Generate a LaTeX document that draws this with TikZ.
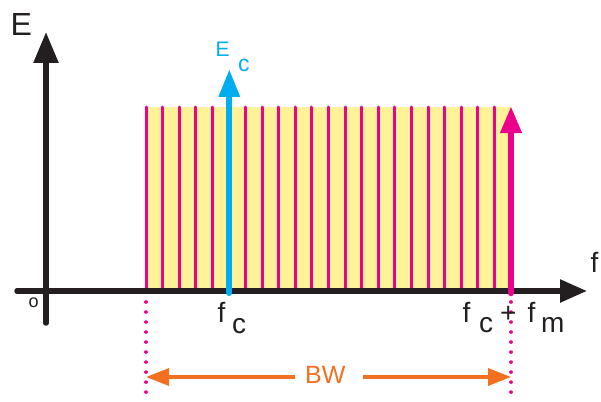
\documentclass[tikz,border=0pt]{standalone}
\usepackage{fontspec}
\setmainfont{Liberation Sans}
\usetikzlibrary{arrows.meta}
\definecolor{axisblack}{RGB}{35,31,32}
\definecolor{cblue}{RGB}{0,174,239}
\definecolor{cpink}{RGB}{236,0,140}
\definecolor{corange}{RGB}{243,112,33}
\definecolor{cyellow}{RGB}{255,242,153}
\tikzset{
  axisline/.style={draw=axisblack,line width=5.5pt,line cap=round},
  sideline/.style={draw=cpink,line width=3pt,line cap=round},
  dotline/.style={draw=cpink,line width=3.6pt,line cap=round,dash pattern=on 0.01pt off 10pt},
  bwarrow/.style={draw=corange,line width=3.2pt,-{Triangle[length=23pt,width=17pt]}},
  lbl/.style={inner sep=0pt,anchor=base west},
}
\begin{document}
\begin{tikzpicture}[x=1pt,y=-1pt]
\useasboundingbox (0,0) rectangle (601,401);
% coordinates
\coordinate (vbot) at (46,323);
\coordinate (vtop) at (46,32);
\coordinate (hleft) at (17,291);
\coordinate (hright) at (587,291);
\coordinate (bandTL) at (146,107);
\coordinate (bandBR) at (511,291);
\coordinate (ecbot) at (229.3,293);
\coordinate (ectop) at (229.3,69);
\coordinate (fmbot) at (511,293);
\coordinate (fmtop) at (511,106);
\coordinate (dl1) at (146,302);
\coordinate (dl2) at (146,401);
\coordinate (dr1) at (511,302);
\coordinate (dr2) at (511,401);
\coordinate (bwL) at (146,377);
\coordinate (bwR) at (511,377);
\coordinate (bwl0) at (295,377);
\coordinate (bwr0) at (363,377);
% yellow band
\fill[cyellow] (bandTL) rectangle (bandBR);
% thin sidebands
\foreach \i in {0,...,21}{
  \ifnum\i=5\else
    \draw[sideline] ({146+\i*16.5909},291) -- ({146+\i*16.5909},107);
  \fi
}
% axes
\draw[axisline,-{Triangle[length=31pt,width=24pt]}] (vbot) -- (vtop);
\draw[axisline,-{Triangle[length=27pt,width=22pt]}] (hleft) -- (hright);
% carrier and top sideband
\draw[draw=cblue,fill=cblue,line width=6pt,line cap=round,-{Triangle[length=28pt,width=20pt]}] (ecbot) -- (ectop);
\draw[draw=cpink,line width=6.5pt,line cap=round,-{Triangle[length=27pt,width=20pt]}] (fmbot) -- (fmtop);
% dotted guides
\draw[dotline] (dl1) -- (dl2);
\draw[dotline] (dr1) -- (dr2);
% BW
\node[lbl,text=corange,font=\fontsize{25}{25}\selectfont] (bw) at (305,383) {BW};
\draw[bwarrow] (bwl0) -- (bwL);
\draw[bwarrow] (bwr0) -- (bwR);
% labels
\node[lbl,text=axisblack,font=\fontsize{32}{32}\selectfont] (E) at (10.5,36) {E};
\node[lbl,text=axisblack,font=\fontsize{28}{28}\selectfont] (f) at (590.5,272) {f};
\node[lbl,text=axisblack,font=\fontsize{18}{18}\selectfont] (zero) at (28.5,307.5) {o};
\node[lbl,text=cblue,font=\fontsize{21}{21}\selectfont] (Ec) at (215.5,56.7) {E};
\node[lbl,text=cblue,font=\fontsize{23}{23}\selectfont] (Ecs) at (238,72) {c};
\node[lbl,text=axisblack,font=\fontsize{28}{28}\selectfont] (fc) at (217.5,322) {f};
\node[lbl,text=axisblack,font=\fontsize{28}{28}\selectfont] (fcs) at (232,333) {c};
\node[lbl,text=axisblack,font=\fontsize{28}{28}\selectfont] (f2) at (462.5,322) {f};
\node[lbl,text=axisblack,font=\fontsize{28}{28}\selectfont] (f2s) at (479,332) {c};
\node[lbl,text=axisblack,font=\fontsize{28}{28}\selectfont] (plus) at (500,322) {+};
\node[lbl,text=axisblack,font=\fontsize{28}{28}\selectfont] (fm) at (527.5,322) {f};
\node[lbl,text=axisblack,font=\fontsize{28}{28}\selectfont] (fms) at (541,332) {m};
\end{tikzpicture}
\end{document}
